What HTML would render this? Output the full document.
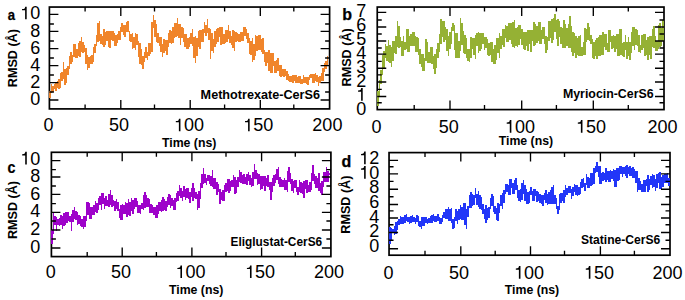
<!DOCTYPE html><html><head><meta charset="utf-8"><style>
html,body{margin:0;padding:0;background:#fff;}svg{display:block;}
text{font-family:"Liberation Sans", sans-serif;}
.tk{font-size:18px;fill:#000;}
.bd{font-weight:bold;fill:#000;}
</style></head><body>
<svg width="685" height="300" viewBox="0 0 685 300">
<rect width="685" height="300" fill="#fff"/>
<rect x="49.4" y="7.05" width="280.2" height="101.85" fill="none" stroke="#000" stroke-width="1.7"/>
<path d="M49.4 91.4h1.5v7.09h-1.5ZM50.9 83.6h1.5v9.79h-1.5ZM52.4 86.33h1.5v6.14h-1.5ZM53.9 83.88h1.5v5.33h-1.5ZM55.4 83.16h1.5v7.39h-1.5ZM56.9 80.75h1.5v6.99h-1.5ZM58.4 79.01h1.5v9.62h-1.5ZM59.9 72.96h1.5v15.47h-1.5ZM61.4 72.38h1.5v8.97h-1.5ZM62.9 62.2h1.5v17.18h-1.5ZM64.4 68.84h1.5v15.96h-1.5ZM65.9 68.46h1.5v14.54h-1.5ZM67.4 65.54h1.5v9.31h-1.5ZM68.9 56.25h1.5v12.6h-1.5ZM70.4 52.25h1.5v12h-1.5ZM71.9 54.62h1.5v7.75h-1.5ZM73.4 44.06h1.5v13.39h-1.5ZM74.9 44.2h1.5v13.52h-1.5ZM76.4 49.46h1.5v8.41h-1.5ZM77.9 43.3h1.5v12.73h-1.5ZM79.4 41.3h1.5v16h-1.5ZM80.9 37.2h1.5v14.95h-1.5ZM82.4 41.93h1.5v11.33h-1.5ZM83.9 45h1.5v6.99h-1.5ZM85.4 47.5h1.5v16.18h-1.5ZM86.9 55.32h1.5v14.6h-1.5ZM88.4 56.76h1.5v11.01h-1.5ZM89.9 55.54h1.5v8.91h-1.5ZM91.4 54.67h1.5v9.03h-1.5ZM92.9 47.13h1.5v14.87h-1.5ZM94.4 44.17h1.5v8.7h-1.5ZM95.9 35.07h1.5v10.7h-1.5ZM97.4 23.1h1.5v18.45h-1.5ZM98.9 21.2h1.5v19.55h-1.5ZM100.4 34.02h1.5v10.31h-1.5ZM101.9 36.13h1.5v8.71h-1.5ZM103.4 29.05h1.5v17.75h-1.5ZM104.9 32.15h1.5v12.5h-1.5ZM106.4 30.63h1.5v10.72h-1.5ZM107.9 31.2h1.5v15.91h-1.5ZM109.4 30.7h1.5v17.1h-1.5ZM110.9 30.7h1.5v9.78h-1.5ZM112.4 31.36h1.5v10.07h-1.5ZM113.9 33.13h1.5v12.66h-1.5ZM115.4 35.36h1.5v10.43h-1.5ZM116.9 34.35h1.5v8.41h-1.5ZM118.4 30.99h1.5v9.21h-1.5ZM119.9 27.08h1.5v12.96h-1.5ZM121.4 23.14h1.5v9.23h-1.5ZM122.9 25.38h1.5v9.12h-1.5ZM124.4 25.48h1.5v11.63h-1.5ZM125.9 21.79h1.5v9.92h-1.5ZM127.4 21.2h1.5v11h-1.5ZM128.9 30.6h1.5v10.89h-1.5ZM130.4 33.74h1.5v8.61h-1.5ZM131.9 32.5h1.5v16.17h-1.5ZM133.4 37.39h1.5v10.66h-1.5ZM134.9 33.2h1.5v16.33h-1.5ZM136.4 33.75h1.5v11.51h-1.5ZM137.9 40.51h1.5v16.34h-1.5ZM139.4 42.63h1.5v21.27h-1.5ZM140.9 48.73h1.5v16.12h-1.5ZM142.4 55.87h1.5v12.93h-1.5ZM143.9 51.57h1.5v10.2h-1.5ZM145.4 46.97h1.5v11.11h-1.5ZM146.9 51.83h1.5v8.5h-1.5ZM148.4 42.7h1.5v13.7h-1.5ZM149.9 42.7h1.5v11.2h-1.5ZM151.4 21.86h1.5v30.16h-1.5ZM152.9 14.75h1.5v13.02h-1.5ZM154.4 19.53h1.5v17.1h-1.5ZM155.9 24.19h1.5v18.23h-1.5ZM157.4 33.27h1.5v10.05h-1.5ZM158.9 37.18h1.5v8.37h-1.5ZM160.4 37.18h1.5v15.13h-1.5ZM161.9 44.02h1.5v12.78h-1.5ZM163.4 38.9h1.5v13.73h-1.5ZM164.9 40.33h1.5v11.1h-1.5ZM166.4 40.17h1.5v14.44h-1.5ZM167.9 32.89h1.5v13.99h-1.5ZM169.4 30.17h1.5v13.01h-1.5ZM170.9 31.36h1.5v12.25h-1.5ZM172.4 27.23h1.5v15.48h-1.5ZM173.9 22.66h1.5v15.29h-1.5ZM175.4 22.88h1.5v14.39h-1.5ZM176.9 18.2h1.5v18.02h-1.5ZM178.4 23.62h1.5v13.94h-1.5ZM179.9 23.62h1.5v21.18h-1.5ZM181.4 27.38h1.5v10.2h-1.5ZM182.9 28.13h1.5v13.8h-1.5ZM184.4 33.54h1.5v13.64h-1.5ZM185.9 34.38h1.5v14.42h-1.5ZM187.4 38.15h1.5v10.72h-1.5ZM188.9 36.61h1.5v10.04h-1.5ZM190.4 33.23h1.5v11.2h-1.5ZM191.9 29.2h1.5v17.29h-1.5ZM193.4 37.44h1.5v20.92h-1.5ZM194.9 36.3h1.5v26.5h-1.5ZM196.4 37.64h1.5v18.56h-1.5ZM197.9 31.02h1.5v16.03h-1.5ZM199.4 29.66h1.5v19.77h-1.5ZM200.9 30.26h1.5v11.99h-1.5ZM202.4 29.49h1.5v12.7h-1.5ZM203.9 22.03h1.5v11.17h-1.5ZM205.4 24.75h1.5v11.15h-1.5ZM206.9 19.2h1.5v14.2h-1.5ZM208.4 28.32h1.5v11.73h-1.5ZM209.9 29.34h1.5v29.46h-1.5ZM211.4 33.31h1.5v17.72h-1.5ZM212.9 38.99h1.5v13.91h-1.5ZM214.4 31.23h1.5v16.25h-1.5ZM215.9 28.52h1.5v15.67h-1.5ZM217.4 28.35h1.5v13.75h-1.5ZM218.9 26.85h1.5v10.46h-1.5ZM220.4 26.7h1.5v18.02h-1.5ZM221.9 26.7h1.5v17.02h-1.5ZM223.4 33.71h1.5v9.96h-1.5ZM224.9 30.32h1.5v12.5h-1.5ZM226.4 29.8h1.5v12.18h-1.5ZM227.9 25.2h1.5v13.41h-1.5ZM229.4 30.64h1.5v12.51h-1.5ZM230.9 36.08h1.5v8.75h-1.5ZM232.4 29.73h1.5v18.3h-1.5ZM233.9 30.8h1.5v20h-1.5ZM235.4 31.85h1.5v10.18h-1.5ZM236.9 32.7h1.5v8.74h-1.5ZM238.4 33.61h1.5v8.63h-1.5ZM239.9 32.15h1.5v10.1h-1.5ZM241.4 31.9h1.5v9.34h-1.5ZM242.9 27.01h1.5v13.99h-1.5ZM244.4 27.01h1.5v9.25h-1.5ZM245.9 28.96h1.5v10.27h-1.5ZM247.4 32.62h1.5v10.45h-1.5ZM248.9 38.33h1.5v15.79h-1.5ZM250.4 40.68h1.5v13.82h-1.5ZM251.9 37.57h1.5v24.23h-1.5ZM253.4 43.97h1.5v16.01h-1.5ZM254.9 35.2h1.5v20.4h-1.5ZM256.4 36.07h1.5v15.38h-1.5ZM257.9 35.15h1.5v14.51h-1.5ZM259.4 34.88h1.5v14.78h-1.5ZM260.9 38.85h1.5v13.08h-1.5ZM262.4 38.2h1.5v15.88h-1.5ZM263.9 50.22h1.5v11.62h-1.5ZM265.4 51.98h1.5v13.75h-1.5ZM266.9 52.31h1.5v10.63h-1.5ZM268.4 50.23h1.5v20.7h-1.5ZM269.9 53.18h1.5v19.72h-1.5ZM271.4 52.8h1.5v20.1h-1.5ZM272.9 53.47h1.5v12.68h-1.5ZM274.4 60.75h1.5v12.55h-1.5ZM275.9 60.1h1.5v13.2h-1.5ZM277.4 58.37h1.5v13.1h-1.5ZM278.9 65.34h1.5v10.16h-1.5ZM280.4 65.34h1.5v11.49h-1.5ZM281.9 69.48h1.5v6.09h-1.5ZM283.4 69h1.5v8.36h-1.5ZM284.9 69.27h1.5v6.61h-1.5ZM286.4 71.37h1.5v8.79h-1.5ZM287.9 74.35h1.5v7.1h-1.5ZM289.4 76.3h1.5v5.88h-1.5ZM290.9 76.13h1.5v5.61h-1.5ZM292.4 74.75h1.5v8.05h-1.5ZM293.9 74.85h1.5v5.79h-1.5ZM295.4 75.41h1.5v7.51h-1.5ZM296.9 76.9h1.5v6.02h-1.5ZM298.4 75.67h1.5v7.21h-1.5ZM299.9 75.67h1.5v8.2h-1.5ZM301.4 79.28h1.5v4.59h-1.5ZM302.9 75.2h1.5v8.15h-1.5ZM304.4 77.08h1.5v5.65h-1.5ZM305.9 77.25h1.5v6.86h-1.5ZM307.4 77.12h1.5v7.68h-1.5ZM308.9 75.49h1.5v4.58h-1.5ZM310.4 74h1.5v4.31h-1.5ZM311.9 74.29h1.5v8.25h-1.5ZM313.4 74.19h1.5v8.34h-1.5ZM314.9 72.97h1.5v7.66h-1.5ZM316.4 75h1.5v6.62h-1.5ZM317.9 76.62h1.5v9.18h-1.5ZM319.4 75.75h1.5v7.58h-1.5ZM320.9 73.4h1.5v8.04h-1.5ZM322.4 67.63h1.5v13.36h-1.5ZM323.9 63.28h1.5v8.64h-1.5ZM325.4 61.09h1.5v8.28h-1.5ZM326.9 55.82h1.5v10.27h-1.5Z" fill="#F0852B" shape-rendering="crispEdges"/>
<path d="M85.1 108.9 V104.4 M85.1 7.05 V11.55 M120.8 108.9 V99.9 M120.8 7.05 V16.05 M154.5 108.9 V104.4 M154.5 7.05 V11.55 M190.2 108.9 V99.9 M190.2 7.05 V16.05 M224.6 108.9 V104.4 M224.6 7.05 V11.55 M260.3 108.9 V99.9 M260.3 7.05 V16.05 M293.8 108.9 V104.4 M293.8 7.05 V11.55 M49.4 14.4 H58.4 M329.6 14.4 H320.6 M49.4 31.4 H58.4 M329.6 31.4 H320.6 M49.4 48.6 H58.4 M329.6 48.6 H320.6 M49.4 65.6 H58.4 M329.6 65.6 H320.6 M49.4 82.6 H58.4 M329.6 82.6 H320.6 M49.4 100 H58.4 M329.6 100 H320.6 M49.4 24 H53.9 M329.6 24 H325.1 M49.4 41 H53.9 M329.6 41 H325.1 M49.4 58 H53.9 M329.6 58 H325.1 M49.4 75 H53.9 M329.6 75 H325.1 M49.4 92 H53.9 M329.6 92 H325.1" stroke="#000" stroke-width="1.35" fill="none"/>
<text class="tk" x="43.56" y="131.3">0</text>
<text class="tk" x="109.06" y="131.3">5</text><text class="tk" x="119.06" y="131.3">0</text>
<text class="tk" x="184.01" y="131.3">0</text><text class="tk" x="194.02" y="131.3">0</text><path d="M180.46 131.3L178.88 131.3L178.88 122.3L175.82 122.3L175.82 121.09Q177.78 121.09 178.41 120.39Q178.83 119.89 178.97 118.65L180.46 118.65Z" fill="#000"/>
<text class="tk" x="253.21" y="131.3">5</text><text class="tk" x="263.22" y="131.3">0</text><path d="M249.66 131.3L248.08 131.3L248.08 122.3L245.02 122.3L245.02 121.09Q246.98 121.09 247.61 120.39Q248.03 119.89 248.17 118.65L249.66 118.65Z" fill="#000"/>
<text class="tk" x="312.36" y="131.3">2</text><text class="tk" x="322.37" y="131.3">0</text><text class="tk" x="332.38" y="131.3">0</text>
<text class="tk" x="30.24" y="19.3">0</text><path d="M26.69 19.3L25.11 19.3L25.11 10.3L22.05 10.3L22.05 9.09Q24.01 9.09 24.64 8.39Q25.06 7.89 25.2 6.65L26.69 6.65Z" fill="#000"/>
<text class="tk" x="30.24" y="36.5">8</text>
<text class="tk" x="30.24" y="53.7">6</text>
<text class="tk" x="30.24" y="71.2">4</text>
<text class="tk" x="30.24" y="87.8">2</text>
<text class="tk" x="30.24" y="104.8">0</text>
<text class="bd" transform="translate(7.8 19.6) scale(0.89 1)" font-size="14.8" stroke="#000" stroke-width="0.25">a</text>
<text class="bd" font-size="12.6" text-anchor="middle" transform="translate(12.5 58.15) rotate(-90)" y="4.4">RMSD (&#197;)</text>
<text class="bd" font-size="12.3" text-anchor="middle" x="189.2" y="147.2">Time (ns)</text>
<text class="bd" font-size="12.4" transform="translate(200.61 98.8) scale(1.0197 1)">Methotrexate-CerS6</text>
<rect x="377.25" y="7.05" width="286.75" height="102.55" fill="none" stroke="#000" stroke-width="1.7"/>
<path d="M377.3 90.76h1.5v15.59h-1.5ZM378.8 79.62h1.5v16.59h-1.5ZM380.3 69.78h1.5v14.14h-1.5ZM381.8 54.9h1.5v19.81h-1.5ZM383.3 50.99h1.5v18.11h-1.5ZM384.8 43.55h1.5v14.51h-1.5ZM386.3 45.51h1.5v15.79h-1.5ZM387.8 40.2h1.5v22.28h-1.5ZM389.3 44.98h1.5v18.25h-1.5ZM390.8 47.09h1.5v19.71h-1.5ZM392.3 41.09h1.5v19.71h-1.5ZM393.8 41.09h1.5v11.58h-1.5ZM395.3 36.34h1.5v18.01h-1.5ZM396.8 21.2h1.5v25.88h-1.5ZM398.3 25.9h1.5v21.95h-1.5ZM399.8 37.33h1.5v9.95h-1.5ZM401.3 40.92h1.5v14.58h-1.5ZM402.8 36.47h1.5v19.33h-1.5ZM404.3 42.2h1.5v7.64h-1.5ZM405.8 29.2h1.5v19.97h-1.5ZM407.3 29.48h1.5v22.05h-1.5ZM408.8 35.65h1.5v16.55h-1.5ZM410.3 33.72h1.5v12.46h-1.5ZM411.8 31.7h1.5v14.23h-1.5ZM413.3 31.98h1.5v13.95h-1.5ZM414.8 36.45h1.5v16.03h-1.5ZM416.3 36.77h1.5v15.71h-1.5ZM417.8 37.65h1.5v16.88h-1.5ZM419.3 49.24h1.5v14.96h-1.5ZM420.8 53.86h1.5v13.07h-1.5ZM422.3 54.17h1.5v16.43h-1.5ZM423.8 58.11h1.5v12.69h-1.5ZM425.3 39.2h1.5v21.48h-1.5ZM426.8 41.95h1.5v20.85h-1.5ZM428.3 52.2h1.5v11.07h-1.5ZM429.8 46.53h1.5v16.77h-1.5ZM431.3 47.05h1.5v16.65h-1.5ZM432.8 55.5h1.5v13.73h-1.5ZM434.3 54.17h1.5v19.63h-1.5ZM435.8 49.25h1.5v18.83h-1.5ZM437.3 42.81h1.5v15.04h-1.5ZM438.8 34.4h1.5v18.02h-1.5ZM440.3 19.2h1.5v24.86h-1.5ZM441.8 20.85h1.5v16.01h-1.5ZM443.3 21.23h1.5v21.12h-1.5ZM444.8 27.2h1.5v12.99h-1.5ZM446.3 28.87h1.5v22.14h-1.5ZM447.8 35.53h1.5v20.27h-1.5ZM449.3 31.9h1.5v16.8h-1.5ZM450.8 26.59h1.5v17.14h-1.5ZM452.3 22.92h1.5v8.23h-1.5ZM453.8 24.73h1.5v25.37h-1.5ZM455.3 33.16h1.5v24.64h-1.5ZM456.8 33.45h1.5v24.85h-1.5ZM458.3 41.14h1.5v16.62h-1.5ZM459.8 18.2h1.5v33h-1.5ZM461.3 22.58h1.5v22.44h-1.5ZM462.8 31.04h1.5v22.43h-1.5ZM464.3 34.65h1.5v19.45h-1.5ZM465.8 38.46h1.5v19.29h-1.5ZM467.3 49.08h1.5v11.59h-1.5ZM468.8 49.08h1.5v12.72h-1.5ZM470.3 37.15h1.5v21.24h-1.5ZM471.8 37.57h1.5v10.98h-1.5ZM473.3 37.7h1.5v17.6h-1.5ZM474.8 35.35h1.5v23.45h-1.5ZM476.3 32.6h1.5v13.05h-1.5ZM477.8 32.2h1.5v20.92h-1.5ZM479.3 33.49h1.5v17.43h-1.5ZM480.8 33.27h1.5v15.79h-1.5ZM482.3 33.27h1.5v10.46h-1.5ZM483.8 37.15h1.5v12.69h-1.5ZM485.3 37.25h1.5v10.92h-1.5ZM486.8 39.3h1.5v16.19h-1.5ZM488.3 43.03h1.5v12.49h-1.5ZM489.8 41.76h1.5v12.99h-1.5ZM491.3 42.09h1.5v19.8h-1.5ZM492.8 49h1.5v14.99h-1.5ZM494.3 44.58h1.5v19.72h-1.5ZM495.8 37.97h1.5v22.35h-1.5ZM497.3 37.97h1.5v14.74h-1.5ZM498.8 33.08h1.5v24.89h-1.5ZM500.3 36.19h1.5v13.27h-1.5ZM501.8 29.35h1.5v15.91h-1.5ZM503.3 29.35h1.5v17.25h-1.5ZM504.8 24.9h1.5v13.27h-1.5ZM506.3 26.15h1.5v16.26h-1.5ZM507.8 22.93h1.5v19.47h-1.5ZM509.3 22.7h1.5v17.48h-1.5ZM510.8 22.7h1.5v21.2h-1.5ZM512.3 21.82h1.5v25.58h-1.5ZM513.8 20.2h1.5v27.95h-1.5ZM515.3 28.37h1.5v17.92h-1.5ZM516.8 26.89h1.5v19.89h-1.5ZM518.3 24.7h1.5v20.33h-1.5ZM519.8 24.7h1.5v14.28h-1.5ZM521.3 28.8h1.5v16.32h-1.5ZM522.8 31.55h1.5v17.79h-1.5ZM524.3 31.55h1.5v18.87h-1.5ZM525.8 31.59h1.5v14.69h-1.5ZM527.3 30.2h1.5v21.2h-1.5ZM528.8 29.7h1.5v14.57h-1.5ZM530.3 29.7h1.5v22.1h-1.5ZM531.8 29.69h1.5v11.12h-1.5ZM533.3 22.2h1.5v23.96h-1.5ZM534.8 24.36h1.5v20.87h-1.5ZM536.3 26.23h1.5v16.67h-1.5ZM537.8 21.97h1.5v18.71h-1.5ZM539.3 21.7h1.5v22.17h-1.5ZM540.8 30.46h1.5v13.13h-1.5ZM542.3 26.92h1.5v12.15h-1.5ZM543.8 27.29h1.5v16.79h-1.5ZM545.3 36.06h1.5v16.95h-1.5ZM546.8 36.94h1.5v12.94h-1.5ZM548.3 21.48h1.5v19.79h-1.5ZM549.8 21.06h1.5v17.17h-1.5ZM551.3 18.83h1.5v23.83h-1.5ZM552.8 18.25h1.5v21.58h-1.5ZM554.3 14.2h1.5v17.89h-1.5ZM555.8 19.77h1.5v19.26h-1.5ZM557.3 19.36h1.5v26.44h-1.5ZM558.8 20.7h1.5v16.78h-1.5ZM560.3 27.31h1.5v17.09h-1.5ZM561.8 27.7h1.5v20.05h-1.5ZM563.3 19.76h1.5v28.54h-1.5ZM564.8 24.39h1.5v23.69h-1.5ZM566.3 27.72h1.5v18.53h-1.5ZM567.8 24.15h1.5v24.15h-1.5ZM569.3 16.2h1.5v32.1h-1.5ZM570.8 25.9h1.5v25.87h-1.5ZM572.3 31.66h1.5v24.44h-1.5ZM573.8 33.05h1.5v19.68h-1.5ZM575.3 35.7h1.5v22.1h-1.5ZM576.8 37.59h1.5v16.98h-1.5ZM578.3 35.7h1.5v20.08h-1.5ZM579.8 35.13h1.5v21.17h-1.5ZM581.3 46.76h1.5v9.54h-1.5ZM582.8 42.44h1.5v12.83h-1.5ZM584.3 28.1h1.5v26.58h-1.5ZM585.8 28.95h1.5v12.69h-1.5ZM587.3 23.2h1.5v17.27h-1.5ZM588.8 27.32h1.5v13.8h-1.5ZM590.3 35.45h1.5v8.98h-1.5ZM591.8 39.25h1.5v18.5h-1.5ZM593.3 41.72h1.5v16.8h-1.5ZM594.8 40.35h1.5v15.86h-1.5ZM596.3 37.52h1.5v21.28h-1.5ZM597.8 36.93h1.5v18.7h-1.5ZM599.3 35.37h1.5v20.82h-1.5ZM600.8 35.37h1.5v19.65h-1.5ZM602.3 32.2h1.5v22.57h-1.5ZM603.8 34.11h1.5v12.77h-1.5ZM605.3 34.11h1.5v16.22h-1.5ZM606.8 43.31h1.5v8.99h-1.5ZM608.3 30.2h1.5v22.1h-1.5ZM609.8 29.7h1.5v12.15h-1.5ZM611.3 36.45h1.5v12.9h-1.5ZM612.8 35.38h1.5v12.14h-1.5ZM614.3 36.39h1.5v16.1h-1.5ZM615.8 34.46h1.5v14.65h-1.5ZM617.3 34.46h1.5v21.63h-1.5ZM618.8 29.06h1.5v26.49h-1.5ZM620.3 28.73h1.5v26.22h-1.5ZM621.8 42.99h1.5v13.31h-1.5ZM623.3 41.58h1.5v15.27h-1.5ZM624.8 35.37h1.5v14.73h-1.5ZM626.3 41.77h1.5v17.67h-1.5ZM627.8 37.38h1.5v18.8h-1.5ZM629.3 41.56h1.5v18.24h-1.5ZM630.8 31.7h1.5v21.1h-1.5ZM632.3 27.2h1.5v18.73h-1.5ZM633.8 27.23h1.5v22.52h-1.5ZM635.3 29.12h1.5v16.09h-1.5ZM636.8 29.75h1.5v16.33h-1.5ZM638.3 34.99h1.5v16.59h-1.5ZM639.8 44.9h1.5v8.52h-1.5ZM641.3 35.43h1.5v14.6h-1.5ZM642.8 34.36h1.5v13.47h-1.5ZM644.3 34.36h1.5v21.43h-1.5ZM645.8 40.47h1.5v14.69h-1.5ZM647.3 37.27h1.5v22.53h-1.5ZM648.8 35.8h1.5v19.67h-1.5ZM650.3 36.43h1.5v22.18h-1.5ZM651.8 28.72h1.5v18.28h-1.5ZM653.3 26.2h1.5v21.85h-1.5ZM654.8 36.36h1.5v14.24h-1.5ZM656.3 40.69h1.5v10.11h-1.5ZM657.8 25.35h1.5v23.72h-1.5ZM659.3 23.28h1.5v23.98h-1.5ZM660.8 27.94h1.5v17.89h-1.5ZM662.3 19.6h1.5v21.8h-1.5Z" fill="#95B134" shape-rendering="crispEdges"/>
<path d="M414.2 109.6 V105.1 M414.2 7.05 V11.55 M450 109.6 V100.6 M450 7.05 V16.05 M484.5 109.6 V105.1 M484.5 7.05 V11.55 M521.7 109.6 V100.6 M521.7 7.05 V16.05 M556.4 109.6 V105.1 M556.4 7.05 V11.55 M593.3 109.6 V100.6 M593.3 7.05 V16.05 M628.3 109.6 V105.1 M628.3 7.05 V11.55 M377.25 12.4 H386.25 M664 12.4 H655 M377.25 27 H386.25 M664 27 H655 M377.25 41 H386.25 M664 41 H655 M377.25 54.1 H386.25 M664 54.1 H655 M377.25 68.2 H386.25 M664 68.2 H655 M377.25 82 H386.25 M664 82 H655 M377.25 96.5 H386.25 M664 96.5 H655 M377.25 20 H381.75 M664 20 H659.5 M377.25 34 H381.75 M664 34 H659.5 M377.25 48 H381.75 M664 48 H659.5 M377.25 61.4 H381.75 M664 61.4 H659.5 M377.25 74.8 H381.75 M664 74.8 H659.5 M377.25 89.3 H381.75 M664 89.3 H659.5 M377.25 102.7 H381.75 M664 102.7 H659.5" stroke="#000" stroke-width="1.35" fill="none"/>
<text class="tk" x="371.46" y="132.65">0</text>
<text class="tk" x="438.66" y="132.65">5</text><text class="tk" x="448.66" y="132.65">0</text>
<text class="tk" x="514.91" y="132.65">0</text><text class="tk" x="524.92" y="132.65">0</text><path d="M511.37 132.65L509.78 132.65L509.78 123.65L506.72 123.65L506.72 122.44Q508.68 122.44 509.31 121.74Q509.73 121.24 509.87 120L511.37 120Z" fill="#000"/>
<text class="tk" x="586.01" y="132.65">5</text><text class="tk" x="596.02" y="132.65">0</text><path d="M582.47 132.65L580.88 132.65L580.88 123.65L577.82 123.65L577.82 122.44Q579.78 122.44 580.41 121.74Q580.83 121.24 580.97 120L582.47 120Z" fill="#000"/>
<text class="tk" x="647.56" y="132.65">2</text><text class="tk" x="657.57" y="132.65">0</text><text class="tk" x="667.58" y="132.65">0</text>
<text class="tk" x="356.24" y="114.55">0</text>
<path d="M362.7 100.65L361.12 100.65L361.12 91.65L358.06 91.65L358.06 90.44Q360.02 90.44 360.65 89.74Q361.06 89.24 361.21 88L362.7 88Z" fill="#000"/>
<text class="tk" x="356.24" y="86.75">2</text>
<text class="tk" x="356.24" y="72.85">3</text>
<text class="tk" x="356.24" y="58.95">4</text>
<text class="tk" x="356.24" y="45.05">5</text>
<text class="tk" x="356.24" y="31.15">6</text>
<text class="tk" x="356.24" y="17.25">7</text>
<text class="bd" transform="translate(342.3 19.9) scale(1 1)" font-size="16" stroke="#000" stroke-width="0.25">b</text>
<text class="bd" font-size="12.6" text-anchor="middle" transform="translate(347 57.35) rotate(-90)" y="4.4">RMSD (&#197;)</text>
<text class="bd" font-size="12.3" text-anchor="middle" x="525.95" y="145.3">Time (ns)</text>
<text class="bd" font-size="12.4" transform="translate(562.93 98) scale(0.9972 1)">Myriocin-CerS6</text>
<rect x="51.4" y="152.3" width="279.5" height="104.3" fill="none" stroke="#000" stroke-width="1.7"/>
<path d="M51.4 229.53h1.5v14.36h-1.5ZM52.9 213.2h1.5v20.98h-1.5ZM54.4 215.5h1.5v9.87h-1.5ZM55.9 217.3h1.5v13.5h-1.5ZM57.4 219.32h1.5v5.95h-1.5ZM58.9 217.94h1.5v8.13h-1.5ZM60.4 215.33h1.5v9.54h-1.5ZM61.9 216.03h1.5v12.52h-1.5ZM63.4 212.54h1.5v13.25h-1.5ZM64.9 212.2h1.5v13.1h-1.5ZM66.4 212.44h1.5v10.45h-1.5ZM67.9 211.7h1.5v9.58h-1.5ZM69.4 215.87h1.5v6.54h-1.5ZM70.9 213.59h1.5v17.21h-1.5ZM72.4 209.65h1.5v12.66h-1.5ZM73.9 207.2h1.5v11.56h-1.5ZM75.4 210.72h1.5v9.55h-1.5ZM76.9 212.4h1.5v12.35h-1.5ZM78.4 215.35h1.5v9.13h-1.5ZM79.9 216.4h1.5v9.56h-1.5ZM81.4 219.03h1.5v7.83h-1.5ZM82.9 216.01h1.5v12.79h-1.5ZM84.4 216.01h1.5v10.83h-1.5ZM85.9 202.2h1.5v18.45h-1.5ZM87.4 202h1.5v13.03h-1.5ZM88.9 202.54h1.5v16.57h-1.5ZM90.4 206.72h1.5v12.39h-1.5ZM91.9 206.58h1.5v8.44h-1.5ZM93.4 205.42h1.5v9.54h-1.5ZM94.9 201.35h1.5v10.81h-1.5ZM96.4 202.96h1.5v9.94h-1.5ZM97.9 198h1.5v12.4h-1.5ZM99.4 196.19h1.5v9.03h-1.5ZM100.9 193.2h1.5v16.42h-1.5ZM102.4 193.3h1.5v10.58h-1.5ZM103.9 197.87h1.5v11.28h-1.5ZM105.4 195.87h1.5v9.98h-1.5ZM106.9 200.38h1.5v6.11h-1.5ZM108.4 193.76h1.5v12.82h-1.5ZM109.9 190.2h1.5v15.27h-1.5ZM111.4 195.31h1.5v12.17h-1.5ZM112.9 200.13h1.5v6.15h-1.5ZM114.4 200.57h1.5v10.33h-1.5ZM115.9 199.13h1.5v9.96h-1.5ZM117.4 202.36h1.5v8.58h-1.5ZM118.9 208.99h1.5v8.71h-1.5ZM120.4 205.19h1.5v14.39h-1.5ZM121.9 203.76h1.5v16.04h-1.5ZM123.4 205.44h1.5v8.21h-1.5ZM124.9 201.62h1.5v12.34h-1.5ZM126.4 203.24h1.5v13.59h-1.5ZM127.9 199.2h1.5v16.01h-1.5ZM129.4 202.17h1.5v13.75h-1.5ZM130.9 198.4h1.5v12.28h-1.5ZM132.4 200.06h1.5v14.21h-1.5ZM133.9 198.2h1.5v10.59h-1.5ZM135.4 198.21h1.5v8.31h-1.5ZM136.9 200.51h1.5v12.29h-1.5ZM138.4 204.62h1.5v8.76h-1.5ZM139.9 205.01h1.5v8.79h-1.5ZM141.4 202.53h1.5v6.75h-1.5ZM142.9 194.64h1.5v14.89h-1.5ZM144.4 192.2h1.5v15.81h-1.5ZM145.9 195.32h1.5v11.65h-1.5ZM147.4 198.37h1.5v8.62h-1.5ZM148.9 199.11h1.5v14.28h-1.5ZM150.4 203.61h1.5v9.5h-1.5ZM151.9 204.94h1.5v7.65h-1.5ZM153.4 206.57h1.5v8.37h-1.5ZM154.9 206.55h1.5v11.46h-1.5ZM156.4 204.68h1.5v13.42h-1.5ZM157.9 202.06h1.5v12.35h-1.5ZM159.4 201.91h1.5v9.26h-1.5ZM160.9 200h1.5v12.48h-1.5ZM162.4 197.2h1.5v13.43h-1.5ZM163.9 199.02h1.5v10.9h-1.5ZM165.4 200.72h1.5v10.07h-1.5ZM166.9 196.86h1.5v10.03h-1.5ZM168.4 193.7h1.5v11.09h-1.5ZM169.9 195.02h1.5v13.42h-1.5ZM171.4 197.57h1.5v8.84h-1.5ZM172.9 199.88h1.5v9.66h-1.5ZM174.4 198.21h1.5v11.33h-1.5ZM175.9 192.66h1.5v9.23h-1.5ZM177.4 191.42h1.5v9.53h-1.5ZM178.9 185.2h1.5v10.73h-1.5ZM180.4 187.56h1.5v10.25h-1.5ZM181.9 190.59h1.5v10.11h-1.5ZM183.4 186.29h1.5v10.36h-1.5ZM184.9 189.41h1.5v10.53h-1.5ZM186.4 188.35h1.5v9.44h-1.5ZM187.9 188.18h1.5v10.61h-1.5ZM189.4 192.44h1.5v10.36h-1.5ZM190.9 187.81h1.5v9.64h-1.5ZM192.4 183.2h1.5v17.52h-1.5ZM193.9 187.69h1.5v10.43h-1.5ZM195.4 191.55h1.5v7.56h-1.5ZM196.9 194.27h1.5v15.53h-1.5ZM198.4 190.5h1.5v17.25h-1.5ZM199.9 183.47h1.5v15.5h-1.5ZM201.4 174.32h1.5v14.1h-1.5ZM202.9 168.2h1.5v15.92h-1.5ZM204.4 173.86h1.5v8.95h-1.5ZM205.9 177.73h1.5v7.07h-1.5ZM207.4 174.77h1.5v6.5h-1.5ZM208.9 175.04h1.5v8.9h-1.5ZM210.4 175.67h1.5v10.52h-1.5ZM211.9 170.2h1.5v16.45h-1.5ZM213.4 177.8h1.5v11.59h-1.5ZM214.9 178.39h1.5v10.17h-1.5ZM216.4 182.41h1.5v12.25h-1.5ZM217.9 184.38h1.5v7.84h-1.5ZM219.4 189.07h1.5v15.08h-1.5ZM220.9 191.5h1.5v8.89h-1.5ZM222.4 190.13h1.5v10.73h-1.5ZM223.9 184.89h1.5v15.89h-1.5ZM225.4 183.03h1.5v8.93h-1.5ZM226.9 179.14h1.5v11.37h-1.5ZM228.4 179.11h1.5v14.08h-1.5ZM229.9 181.32h1.5v9.81h-1.5ZM231.4 179.55h1.5v7.81h-1.5ZM232.9 175.05h1.5v11.84h-1.5ZM234.4 177.13h1.5v16.67h-1.5ZM235.9 180.01h1.5v13.27h-1.5ZM237.4 177.48h1.5v9.11h-1.5ZM238.9 169.8h1.5v12.63h-1.5ZM240.4 171.76h1.5v11.32h-1.5ZM241.9 175.38h1.5v8.78h-1.5ZM243.4 173.59h1.5v10.13h-1.5ZM244.9 176.86h1.5v6.8h-1.5ZM246.4 173.91h1.5v11.15h-1.5ZM247.9 172.2h1.5v8.78h-1.5ZM249.4 175.37h1.5v10.11h-1.5ZM250.9 177.61h1.5v9.19h-1.5ZM252.4 172.16h1.5v13.64h-1.5ZM253.9 164.2h1.5v14.7h-1.5ZM255.4 169.76h1.5v9.43h-1.5ZM256.9 172.97h1.5v11.64h-1.5ZM258.4 173.63h1.5v10h-1.5ZM259.9 175.83h1.5v13.97h-1.5ZM261.4 175.9h1.5v12.65h-1.5ZM262.9 175.9h1.5v9.91h-1.5ZM264.4 176.38h1.5v14.14h-1.5ZM265.9 177.88h1.5v8.56h-1.5ZM267.4 175.22h1.5v11.66h-1.5ZM268.9 181.78h1.5v8.31h-1.5ZM270.4 181.51h1.5v18.29h-1.5ZM271.9 177.66h1.5v14.75h-1.5ZM273.4 175.02h1.5v10.67h-1.5ZM274.9 173.97h1.5v8.62h-1.5ZM276.4 169.14h1.5v11.22h-1.5ZM277.9 167.2h1.5v17.1h-1.5ZM279.4 177.35h1.5v9.16h-1.5ZM280.9 178.5h1.5v8.73h-1.5ZM282.4 180h1.5v6.51h-1.5ZM283.9 177.97h1.5v11.88h-1.5ZM285.4 179.84h1.5v10.02h-1.5ZM286.9 170.97h1.5v20.83h-1.5ZM288.4 167.2h1.5v14.94h-1.5ZM289.9 172.85h1.5v11.32h-1.5ZM291.4 178.53h1.5v12.91h-1.5ZM292.9 181.34h1.5v12h-1.5ZM294.4 179.67h1.5v8.32h-1.5ZM295.9 180.16h1.5v12.32h-1.5ZM297.4 187.35h1.5v7.96h-1.5ZM298.9 179.83h1.5v12.56h-1.5ZM300.4 181.9h1.5v11.17h-1.5ZM301.9 183.01h1.5v11.09h-1.5ZM303.4 180.53h1.5v17.27h-1.5ZM304.9 180.28h1.5v8.66h-1.5ZM306.4 180.2h1.5v12.77h-1.5ZM307.9 185.19h1.5v7.23h-1.5ZM309.4 181.64h1.5v10.73h-1.5ZM310.9 172.77h1.5v16.86h-1.5ZM312.4 165.2h1.5v15.48h-1.5ZM313.9 173.55h1.5v10.33h-1.5ZM315.4 176.04h1.5v11.99h-1.5ZM316.9 178.05h1.5v9.75h-1.5ZM318.4 173.47h1.5v17.04h-1.5ZM319.9 183.06h1.5v9.46h-1.5ZM321.4 180.84h1.5v13.96h-1.5ZM322.9 171.7h1.5v15.17h-1.5ZM324.4 172.38h1.5v9.19h-1.5ZM325.9 167.2h1.5v14.96h-1.5ZM327.4 170.98h1.5v11.19h-1.5ZM328.9 172.94h1.5v1.91h-1.5Z" fill="#9E02CA" shape-rendering="crispEdges"/>
<path d="M87.2 256.6 V252.1 M87.2 152.3 V156.8 M122.2 256.6 V247.6 M122.2 152.3 V161.3 M156.4 256.6 V252.1 M156.4 152.3 V156.8 M191.9 256.6 V247.6 M191.9 152.3 V161.3 M226 256.6 V252.1 M226 152.3 V156.8 M261.6 256.6 V247.6 M261.6 152.3 V161.3 M295.3 256.6 V252.1 M295.3 152.3 V156.8 M51.4 160.6 H60.4 M330.9 160.6 H321.9 M51.4 177 H60.4 M330.9 177 H321.9 M51.4 194.4 H60.4 M330.9 194.4 H321.9 M51.4 212.4 H60.4 M330.9 212.4 H321.9 M51.4 230 H60.4 M330.9 230 H321.9 M51.4 248 H60.4 M330.9 248 H321.9 M51.4 169.6 H55.9 M330.9 169.6 H326.4 M51.4 186 H55.9 M330.9 186 H326.4 M51.4 203.6 H55.9 M330.9 203.6 H326.4 M51.4 221 H55.9 M330.9 221 H326.4 M51.4 239 H55.9 M330.9 239 H326.4" stroke="#000" stroke-width="1.35" fill="none"/>
<text class="tk" x="45.81" y="278.1">0</text>
<text class="tk" x="110.96" y="278.1">5</text><text class="tk" x="120.96" y="278.1">0</text>
<text class="tk" x="185.56" y="278.1">0</text><text class="tk" x="195.57" y="278.1">0</text><path d="M182.01 278.1L180.43 278.1L180.43 269.1L177.37 269.1L177.37 267.89Q179.33 267.89 179.96 267.19Q180.38 266.69 180.52 265.45L182.01 265.45Z" fill="#000"/>
<text class="tk" x="255.11" y="278.1">5</text><text class="tk" x="265.12" y="278.1">0</text><path d="M251.56 278.1L249.98 278.1L249.98 269.1L246.92 269.1L246.92 267.89Q248.88 267.89 249.51 267.19Q249.93 266.69 250.07 265.45L251.56 265.45Z" fill="#000"/>
<text class="tk" x="313.96" y="278.1">2</text><text class="tk" x="323.97" y="278.1">0</text><text class="tk" x="333.98" y="278.1">0</text>
<text class="tk" x="30.34" y="164.5">0</text><path d="M26.79 164.5L25.21 164.5L25.21 155.5L22.15 155.5L22.15 154.29Q24.11 154.29 24.74 153.59Q25.16 153.09 25.3 151.85L26.79 151.85Z" fill="#000"/>
<text class="tk" x="30.34" y="181.9">8</text>
<text class="tk" x="30.34" y="199.6">6</text>
<text class="tk" x="30.34" y="217.2">4</text>
<text class="tk" x="30.34" y="234.7">2</text>
<text class="tk" x="30.34" y="252.5">0</text>
<text class="bd" transform="translate(7.53 172.5) scale(0.9 1)" font-size="15.8" stroke="#000" stroke-width="0.25">c</text>
<text class="bd" font-size="12.6" text-anchor="middle" transform="translate(12.5 210) rotate(-90)" y="4.4">RMSD (&#197;)</text>
<text class="bd" font-size="12.3" text-anchor="middle" x="196.2" y="294.2">Time (ns)</text>
<text class="bd" font-size="12.4" transform="translate(230.57 246.1) scale(0.9567 1)">Eliglustat-CerS6</text>
<rect x="389.05" y="152.6" width="280.95" height="102.6" fill="none" stroke="#000" stroke-width="1.7"/>
<path d="M389.2 227.2h1.5v17.24h-1.5ZM390.7 228.26h1.5v12.3h-1.5ZM392.2 228.6h1.5v4.06h-1.5ZM393.7 226.14h1.5v8.96h-1.5ZM395.2 222.15h1.5v12.26h-1.5ZM396.7 220.98h1.5v8.68h-1.5ZM398.2 218.98h1.5v6h-1.5ZM399.7 216.2h1.5v8.28h-1.5ZM401.2 217h1.5v6.63h-1.5ZM402.7 217.34h1.5v7.13h-1.5ZM404.2 214.82h1.5v7.93h-1.5ZM405.7 214.2h1.5v6.92h-1.5ZM407.2 216.6h1.5v5.75h-1.5ZM408.7 216.56h1.5v7.72h-1.5ZM410.2 216.05h1.5v7.23h-1.5ZM411.7 215.15h1.5v6.35h-1.5ZM413.2 216.71h1.5v5.65h-1.5ZM414.7 218.47h1.5v5.83h-1.5ZM416.2 215.17h1.5v6.88h-1.5ZM417.7 216.08h1.5v9.62h-1.5ZM419.2 220.56h1.5v6.07h-1.5ZM420.7 217.41h1.5v11.39h-1.5ZM422.2 217.17h1.5v9.24h-1.5ZM423.7 217.2h1.5v9.06h-1.5ZM425.2 216.7h1.5v6.13h-1.5ZM426.7 219.08h1.5v5.16h-1.5ZM428.2 217.91h1.5v5.56h-1.5ZM429.7 215.92h1.5v6.79h-1.5ZM431.2 215.06h1.5v7.49h-1.5ZM432.7 214.2h1.5v6.98h-1.5ZM434.2 215.8h1.5v6.65h-1.5ZM435.7 215.8h1.5v6.02h-1.5ZM437.2 214.27h1.5v7.01h-1.5ZM438.7 216.51h1.5v7.79h-1.5ZM440.2 218.22h1.5v6.08h-1.5ZM441.7 215.23h1.5v6.67h-1.5ZM443.2 212.08h1.5v5.71h-1.5ZM444.7 208.62h1.5v10.44h-1.5ZM446.2 208.62h1.5v10.69h-1.5ZM447.7 207.2h1.5v14.1h-1.5ZM449.2 209.27h1.5v12.03h-1.5ZM450.7 207.6h1.5v15.16h-1.5ZM452.2 218.91h1.5v9.89h-1.5ZM453.7 217.31h1.5v10.3h-1.5ZM455.2 209.33h1.5v12.02h-1.5ZM456.7 211.09h1.5v12.63h-1.5ZM458.2 209.43h1.5v10.67h-1.5ZM459.7 205.43h1.5v14h-1.5ZM461.2 207.38h1.5v13.06h-1.5ZM462.7 203.2h1.5v17.24h-1.5ZM464.2 203.39h1.5v21.25h-1.5ZM465.7 208.56h1.5v20.24h-1.5ZM467.2 205.93h1.5v11.55h-1.5ZM468.7 194.59h1.5v13.31h-1.5ZM470.2 191.54h1.5v16.33h-1.5ZM471.7 193.95h1.5v11.89h-1.5ZM473.2 195.26h1.5v9.74h-1.5ZM474.7 188.2h1.5v10.23h-1.5ZM476.2 194.16h1.5v11.15h-1.5ZM477.7 191.24h1.5v16.02h-1.5ZM479.2 195.07h1.5v14.17h-1.5ZM480.7 196.79h1.5v13.22h-1.5ZM482.2 204.13h1.5v9.94h-1.5ZM483.7 209.21h1.5v10.04h-1.5ZM485.2 204.54h1.5v18.26h-1.5ZM486.7 207.65h1.5v12.57h-1.5ZM488.2 207.11h1.5v10.39h-1.5ZM489.7 198.45h1.5v10.26h-1.5ZM491.2 194.2h1.5v11.51h-1.5ZM492.7 196.43h1.5v15.13h-1.5ZM494.2 205.64h1.5v8.26h-1.5ZM495.7 207.57h1.5v12.63h-1.5ZM497.2 202.68h1.5v18.12h-1.5ZM498.7 203.82h1.5v9.24h-1.5ZM500.2 195.43h1.5v10.85h-1.5ZM501.7 192.59h1.5v15.91h-1.5ZM503.2 190.25h1.5v12.51h-1.5ZM504.7 184.19h1.5v10.08h-1.5ZM506.2 184.11h1.5v7.48h-1.5ZM507.7 184.74h1.5v9.85h-1.5ZM509.2 178.97h1.5v15.62h-1.5ZM510.7 179.2h1.5v9.23h-1.5ZM512.2 183.35h1.5v10.64h-1.5ZM513.7 179.52h1.5v14.28h-1.5ZM515.2 178.2h1.5v12.12h-1.5ZM516.7 184.84h1.5v12.73h-1.5ZM518.2 190.19h1.5v10.99h-1.5ZM519.7 188.97h1.5v12.83h-1.5ZM521.2 182.71h1.5v16.99h-1.5ZM522.7 179.88h1.5v14.3h-1.5ZM524.2 185.42h1.5v16.03h-1.5ZM525.7 188.96h1.5v15.34h-1.5ZM527.2 192.22h1.5v12.08h-1.5ZM528.7 190.77h1.5v11.93h-1.5ZM530.2 187.31h1.5v7.66h-1.5ZM531.7 190.88h1.5v10.22h-1.5ZM533.2 188.89h1.5v12.2h-1.5ZM534.7 188.82h1.5v7.59h-1.5ZM536.2 190.57h1.5v10.93h-1.5ZM537.7 191.76h1.5v9.42h-1.5ZM539.2 193.57h1.5v9.64h-1.5ZM540.7 195.23h1.5v8.36h-1.5ZM542.2 195.46h1.5v10.81h-1.5ZM543.7 193.36h1.5v6.39h-1.5ZM545.2 190.2h1.5v12.73h-1.5ZM546.7 193.6h1.5v11.35h-1.5ZM548.2 192.3h1.5v12.1h-1.5ZM549.7 189.89h1.5v13.76h-1.5ZM551.2 187.4h1.5v16.21h-1.5ZM552.7 185.2h1.5v18.7h-1.5ZM554.2 195.11h1.5v9.38h-1.5ZM555.7 197.58h1.5v11.34h-1.5ZM557.2 206.08h1.5v7.78h-1.5ZM558.7 194.15h1.5v15.94h-1.5ZM560.2 192.86h1.5v9.87h-1.5ZM561.7 192.61h1.5v8.68h-1.5ZM563.2 189.55h1.5v13.35h-1.5ZM564.7 185.2h1.5v11.89h-1.5ZM566.2 188.28h1.5v6.94h-1.5ZM567.7 186.49h1.5v6.77h-1.5ZM569.2 186.47h1.5v6.29h-1.5ZM570.7 188.57h1.5v10.26h-1.5ZM572.2 186.57h1.5v9.34h-1.5ZM573.7 184.42h1.5v7.08h-1.5ZM575.2 184.95h1.5v9.71h-1.5ZM576.7 184.69h1.5v10.98h-1.5ZM578.2 186.76h1.5v8.2h-1.5ZM579.7 182.01h1.5v12.22h-1.5ZM581.2 179.05h1.5v8.65h-1.5ZM582.7 177.81h1.5v9.58h-1.5ZM584.2 182.88h1.5v7.98h-1.5ZM585.7 173.76h1.5v11.59h-1.5ZM587.2 177.03h1.5v10.5h-1.5ZM588.7 177.5h1.5v10.1h-1.5ZM590.2 173.25h1.5v12.58h-1.5ZM591.7 173.25h1.5v11.5h-1.5ZM593.2 168.49h1.5v15.02h-1.5ZM594.7 165.76h1.5v7.27h-1.5ZM596.2 162.15h1.5v9.42h-1.5ZM597.7 165.85h1.5v11.17h-1.5ZM599.2 165.85h1.5v17.95h-1.5ZM600.7 173.23h1.5v10.28h-1.5ZM602.2 171.99h1.5v8.67h-1.5ZM603.7 172.83h1.5v7.11h-1.5ZM605.2 168.2h1.5v14.1h-1.5ZM606.7 170.97h1.5v8.6h-1.5ZM608.2 170.97h1.5v11.09h-1.5ZM609.7 170.33h1.5v11.73h-1.5ZM611.2 170.51h1.5v8.92h-1.5ZM612.7 169.02h1.5v11.84h-1.5ZM614.2 169.57h1.5v17.23h-1.5ZM615.7 168.32h1.5v18.22h-1.5ZM617.2 168.32h1.5v12.57h-1.5ZM618.7 166.32h1.5v13.94h-1.5ZM620.2 166.2h1.5v8.22h-1.5ZM621.7 166.8h1.5v9.7h-1.5ZM623.2 166.8h1.5v6.84h-1.5ZM624.7 166.44h1.5v9.86h-1.5ZM626.2 165.2h1.5v12.5h-1.5ZM627.7 166.8h1.5v7.18h-1.5ZM629.2 165.71h1.5v10.17h-1.5ZM630.7 167.82h1.5v7.96h-1.5ZM632.2 166.57h1.5v11.21h-1.5ZM633.7 169.2h1.5v8.52h-1.5ZM635.2 171.16h1.5v11.59h-1.5ZM636.7 171.16h1.5v20.64h-1.5ZM638.2 177.95h1.5v11.82h-1.5ZM639.7 181.01h1.5v9.47h-1.5ZM641.2 184.11h1.5v8.19h-1.5ZM642.7 180.38h1.5v11.71h-1.5ZM644.2 179.81h1.5v12.49h-1.5ZM645.7 179.13h1.5v7.15h-1.5ZM647.2 175.12h1.5v17.18h-1.5ZM648.7 179.42h1.5v10.12h-1.5ZM650.2 175.77h1.5v9.2h-1.5ZM651.7 173.96h1.5v14.26h-1.5ZM653.2 174.66h1.5v12.25h-1.5ZM654.7 178.93h1.5v11.6h-1.5ZM656.2 173.7h1.5v14.1h-1.5ZM657.7 173.07h1.5v9.77h-1.5ZM659.2 171.9h1.5v17.21h-1.5ZM660.7 177.13h1.5v11.98h-1.5ZM662.2 174.76h1.5v11.97h-1.5ZM663.7 174.48h1.5v8.52h-1.5ZM665.2 174.13h1.5v8.84h-1.5ZM666.7 173.03h1.5v10.29h-1.5ZM668.2 178.38h1.5v7.12h-1.5Z" fill="#2236F8" shape-rendering="crispEdges"/>
<path d="M425 255.2 V250.7 M425 152.6 V157.1 M460.8 255.2 V246.2 M460.8 152.6 V161.6 M495.2 255.2 V250.7 M495.2 152.6 V157.1 M530.5 255.2 V246.2 M530.5 152.6 V161.6 M564.5 255.2 V250.7 M564.5 152.6 V157.1 M600.4 255.2 V246.2 M600.4 152.6 V161.6 M634.4 255.2 V250.7 M634.4 152.6 V157.1 M389.05 160.3 H398.05 M670 160.3 H661 M389.05 173.8 H398.05 M670 173.8 H661 M389.05 189.2 H398.05 M670 189.2 H661 M389.05 204.5 H398.05 M670 204.5 H661 M389.05 218 H398.05 M670 218 H661 M389.05 232.5 H398.05 M670 232.5 H661 M389.05 248.7 H398.05 M670 248.7 H661 M389.05 166.7 H393.55 M670 166.7 H665.5 M389.05 181.3 H393.55 M670 181.3 H665.5 M389.05 196.7 H393.55 M670 196.7 H665.5 M389.05 210.8 H393.55 M670 210.8 H665.5 M389.05 224.7 H393.55 M670 224.7 H665.5 M389.05 240.2 H393.55 M670 240.2 H665.5" stroke="#000" stroke-width="1.35" fill="none"/>
<text class="tk" x="383.51" y="278.65">0</text>
<text class="tk" x="449.01" y="278.65">5</text><text class="tk" x="459.01" y="278.65">0</text>
<text class="tk" x="524.01" y="278.65">0</text><text class="tk" x="534.02" y="278.65">0</text><path d="M520.47 278.65L518.88 278.65L518.88 269.65L515.82 269.65L515.82 268.44Q517.78 268.44 518.41 267.74Q518.83 267.24 518.97 266L520.47 266Z" fill="#000"/>
<text class="tk" x="593.96" y="278.65">5</text><text class="tk" x="603.97" y="278.65">0</text><path d="M590.41 278.65L588.83 278.65L588.83 269.65L585.77 269.65L585.77 268.44Q587.73 268.44 588.36 267.74Q588.78 267.24 588.92 266L590.41 266Z" fill="#000"/>
<text class="tk" x="652.46" y="278.65">2</text><text class="tk" x="662.47" y="278.65">0</text><text class="tk" x="672.48" y="278.65">0</text>
<text class="tk" x="369.24" y="164.2">2</text><path d="M365.69 164.2L364.11 164.2L364.11 155.2L361.05 155.2L361.05 153.99Q363.01 153.99 363.64 153.29Q364.06 152.79 364.2 151.55L365.69 151.55Z" fill="#000"/>
<text class="tk" x="369.24" y="178.7">0</text><path d="M365.69 178.7L364.11 178.7L364.11 169.7L361.05 169.7L361.05 168.49Q363.01 168.49 363.64 167.79Q364.06 167.29 364.2 166.05L365.69 166.05Z" fill="#000"/>
<text class="tk" x="369.24" y="193.4">8</text>
<text class="tk" x="369.24" y="208">6</text>
<text class="tk" x="369.24" y="222.6">4</text>
<text class="tk" x="369.24" y="237.1">2</text>
<text class="tk" x="369.24" y="251.7">0</text>
<text class="bd" transform="translate(341.4 167.2) scale(1 1)" font-size="16" stroke="#000" stroke-width="0.25">d</text>
<text class="bd" font-size="12.6" text-anchor="middle" transform="translate(346 204.65) rotate(-90)" y="4.4">RMSD (&#197;)</text>
<text class="bd" font-size="12.3" text-anchor="middle" x="532" y="293.5">Time (ns)</text>
<text class="bd" font-size="12.4" transform="translate(580.94 244.2) scale(0.9767 1)">Statine-CerS6</text>
</svg></body></html>
